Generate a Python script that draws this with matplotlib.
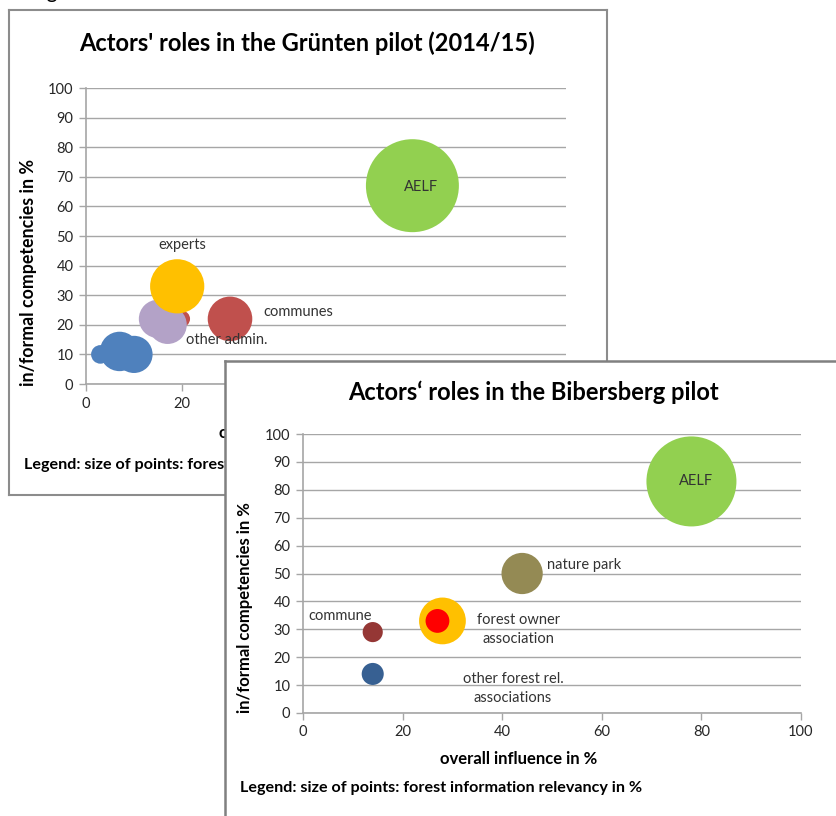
import matplotlib
matplotlib.use('Agg')
import matplotlib.pyplot as plt

plt.rcParams['font.family'] = ['Lato', 'DejaVu Sans']

W, H = 837, 816

# Gruenten pilot (2014/15)
gr_x = [3, 7, 10, 20, 15, 17, 19, 30, 68]
gr_y = [10, 11, 10, 22, 22, 20, 33, 22, 67]
gr_rel = [4, 18, 16, 3, 17, 17, 34, 23, 100]
gr_colors = ['#4F81BD', '#4F81BD', '#4F81BD', '#C0504D', '#B3A2C7', '#B3A2C7',
             '#FFC000', '#C0504D', '#92D050']
gr_labels = ['AELF', 'experts', 'communes', 'other admin.']
gr_label_idx = [8, 6, 7, 4]

# Bibersberg pilot
bi_x = [78, 44, 28, 27, 14, 14]
bi_y = [83, 50, 33, 33, 29, 14]
bi_rel = [100, 21, 27, 7, 5, 6]
bi_colors = ['#92D050', '#948A54', '#FFC000', '#FF0000', '#953735', '#376092']
bi_labels = ['AELF', 'nature park', 'forest owner\nassociation', 'commune',
             'other forest rel.\nassociations']
bi_label_idx = [0, 1, 2, 4, 5]

ticks = [0, 20, 40, 60, 80, 100]
yticks = list(range(0, 101, 10))


def fx(x):
    return x / W


def fy(y):
    return 1 - y / H


def frame(l, t, r, b):
    return [fx(l), fy(b), fx(r) - fx(l), fy(t) - fy(b)]


def style_chart(ax):
    ax.set_xlim(0, 100)
    ax.set_ylim(0, 100)
    ax.set_xticks(ticks)
    ax.set_yticks(yticks)
    ax.grid(axis='y', color='#A6A6A6', lw=1.0)
    ax.set_axisbelow(True)
    for s in ['top', 'right']:
        ax.spines[s].set_visible(False)
    for s in ['left', 'bottom']:
        ax.spines[s].set_color('#A6A6A6')
        ax.spines[s].set_linewidth(1.2)
    ax.tick_params(direction='out', length=5, color='#A6A6A6', width=1.0,
                   labelsize=10.5, labelcolor='#262626', pad=4)


fig = plt.figure(figsize=(W / 100, H / 100), dpi=100)

# caption fragment above the first panel (only its descender shows)
fig.text(fx(30), fy(-2), 'Fig', fontsize=15, va='baseline', ha='left')

# ---- first panel (Gruenten) ----
p1 = fig.add_axes(frame(9, 10, 607, 495))
p1.set_xticks([])
p1.set_yticks([])
for s in p1.spines.values():
    s.set_color('#8C8C8C')
    s.set_linewidth(1.5)
p1.set_zorder(0)

ax1 = fig.add_axes(frame(86, 88, 566, 384))
ax1.set_zorder(1)
style_chart(ax1)
k1 = 44.8
ax1.scatter(gr_x, gr_y, s=[r * k1 for r in gr_rel], c=gr_colors,
            edgecolors='none', zorder=3)
offs1 = [(6, -1, 'center'), (3.6, 30, 'center'), (24, 5, 'left'), (20.5, -15, 'left')]
for lab, i, (dx, dy, ha) in zip(gr_labels, gr_label_idx, offs1):
    ax1.annotate(lab, (gr_x[i], gr_y[i]), xytext=(dx, dy), textcoords='offset points',
                 ha=ha, va='center', fontsize=10.5, color='#333333', zorder=4)

ax1.text(fx(307), fy(43), "Actors' roles in the Grünten pilot (2014/15)",
         transform=fig.transFigure, ha='center', va='center', fontsize=17,
         fontweight='bold')
ax1.text(fx(29), fy(273), 'in/formal competencies in %', transform=fig.transFigure,
         rotation=90, ha='center', va='center', fontsize=12.8, fontweight='bold')
ax1.text(fx(219), fy(433), 'overall influence in %', transform=fig.transFigure,
         ha='left', va='center', fontsize=12, fontweight='bold')
ax1.text(fx(24), fy(465), 'Legend: size of points: forest information relevancy in %',
         transform=fig.transFigure, ha='left', va='center', fontsize=11.6,
         fontweight='bold')

# ---- second panel (Bibersberg) ----
p2 = fig.add_axes(frame(225, 361, 860, 840))
p2.set_xticks([])
p2.set_yticks([])
for s in p2.spines.values():
    s.set_color('#808080')
    s.set_linewidth(1.8)
p2.set_facecolor('white')
p2.set_zorder(2)

ax2 = fig.add_axes(frame(303, 434, 801, 713))
ax2.set_zorder(3)
style_chart(ax2)
k2 = 42.0
ax2.scatter(bi_x, bi_y, s=[r * k2 for r in bi_rel], c=bi_colors,
            edgecolors='none', zorder=3)
offs2 = [(3.6, 0, 'center'), (18, 6, 'left'), (55, -6, 'center'),
         (-46, 11.5, 'left'), (101, -10.4, 'center')]
for lab, i, (dx, dy, ha) in zip(bi_labels, bi_label_idx, offs2):
    ax2.annotate(lab, (bi_x[i], bi_y[i]), xytext=(dx, dy), textcoords='offset points',
                 ha=ha, va='center', fontsize=10.5, color='#333333',
                 multialignment='center', linespacing=1.45, zorder=4)

ax2.text(fx(533), fy(392), 'Actors\u2018 roles in the Bibersberg pilot',
         transform=fig.transFigure, ha='center', va='center', fontsize=17,
         fontweight='bold')
ax2.text(fx(245), fy(608), 'in/formal competencies in %', transform=fig.transFigure,
         rotation=90, ha='center', va='center', fontsize=12, fontweight='bold')
ax2.text(fx(519), fy(759), 'overall influence in %', transform=fig.transFigure,
         ha='center', va='center', fontsize=12, fontweight='bold')
ax2.text(fx(240), fy(788), 'Legend: size of points: forest information relevancy in %',
         transform=fig.transFigure, ha='left', va='center', fontsize=11.6,
         fontweight='bold')

fig.savefig('out.png', dpi=100)
